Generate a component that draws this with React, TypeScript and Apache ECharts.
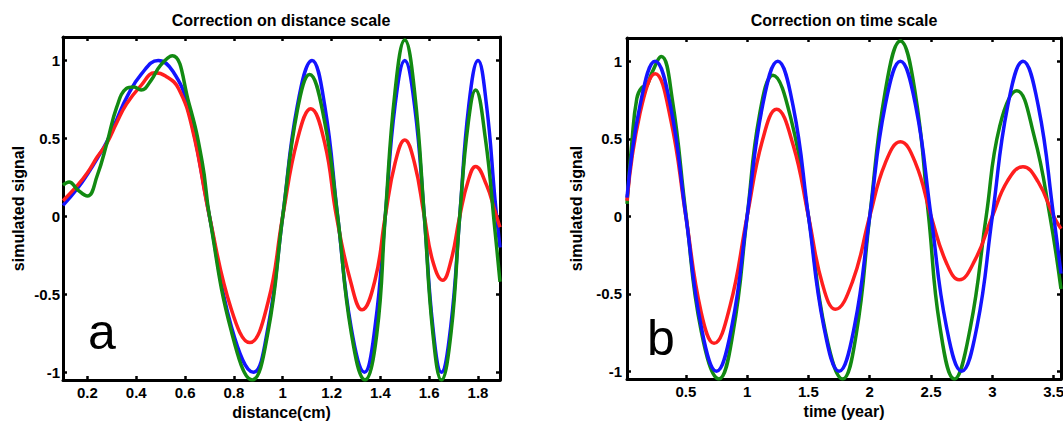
import React, { useEffect, useRef } from "react";
import * as echarts from "echarts";

// ---- tick values ----
const distanceTicks = [0.2, 0.4, 0.6, 0.8, 1, 1.2, 1.4, 1.6, 1.8];
const timeTicks = [0.5, 1, 1.5, 2, 2.5, 3, 3.5];
const signalTicks = [-1, -0.5, 0, 0.5, 1];

// ---- panel a: distance (cm) vs simulated signal ----
const distanceBlue: [number, number][] = [
  [0.1, 0.07], [0.16, 0.18], [0.2, 0.27], [0.24, 0.37], [0.28, 0.48], [0.32, 0.62], [0.36, 0.76],
  [0.42, 0.91], [0.49, 1.0], [0.55, 0.93], [0.61, 0.71], [0.7, 0.0], [0.79, -0.71], [0.88, -1.0],
  [0.94, -0.71], [1.0, 0.0], [1.06, 0.71], [1.12, 1.0], [1.172, 0.71], [1.225, 0.0], [1.28, -0.71],
  [1.335, -1.0], [1.378, -0.71], [1.42, 0.0], [1.46, 0.71], [1.5, 1.0], [1.54, 0.71], [1.58, 0.0],
  [1.615, -0.71], [1.65, -1.0], [1.688, -0.71], [1.725, 0.0], [1.762, 0.71], [1.8, 1.0], [1.835, 0.71],
  [1.87, 0.1], [1.89, -0.2],
];
const distanceRed: [number, number][] = [
  [0.1, 0.1], [0.16, 0.2], [0.2, 0.28], [0.24, 0.38], [0.28, 0.47], [0.32, 0.6], [0.36, 0.72],
  [0.42, 0.84], [0.476, 0.92], [0.52, 0.9], [0.573, 0.82], [0.63, 0.56], [0.7, 0.0], [0.79, -0.6],
  [0.865, -0.81], [0.94, -0.55], [1.0, 0.0], [1.06, 0.49], [1.115, 0.69], [1.172, 0.47], [1.22, 0.0],
  [1.28, -0.43], [1.325, -0.6], [1.378, -0.41], [1.42, 0.0], [1.46, 0.34], [1.5, 0.49], [1.54, 0.34],
  [1.58, 0.0], [1.615, -0.29], [1.655, -0.41], [1.69, -0.28], [1.725, 0.0], [1.76, 0.23], [1.79, 0.32],
  [1.835, 0.2], [1.87, 0.03], [1.89, -0.07],
];
const distanceGreen: [number, number][] = [
  [0.1, 0.2], [0.125, 0.22], [0.16, 0.17], [0.2, 0.13], [0.24, 0.26], [0.28, 0.47], [0.32, 0.7],
  [0.36, 0.82], [0.39, 0.83], [0.42, 0.81], [0.46, 0.87], [0.5, 0.97], [0.548, 1.03], [0.615, 0.73],
  [0.67, 0.35], [0.7, 0.0], [0.79, -0.74], [0.875, -1.05], [0.94, -0.74], [1.0, 0.0], [1.06, 0.68],
  [1.11, 0.91], [1.17, 0.62], [1.225, 0.0], [1.28, -0.74], [1.337, -1.05], [1.385, -0.76], [1.42, 0.0],
  [1.46, 0.8], [1.5, 1.13], [1.54, 0.8], [1.58, 0.0], [1.615, -0.75], [1.65, -1.05], [1.69, -0.74],
  [1.725, 0.0], [1.76, 0.6], [1.79, 0.81], [1.83, 0.5], [1.87, -0.1], [1.89, -0.42],
];

// ---- panel b: time (year) vs simulated signal ----
const timeBlue: [number, number][] = [
  [0.02, 0.12], [0.125, 0.71], [0.25, 1.0], [0.375, 0.71], [0.5, 0.0], [0.625, -0.71], [0.75, -1.0],
  [0.875, -0.71], [1.0, 0.0], [1.125, 0.71], [1.25, 1.0], [1.375, 0.71], [1.5, 0.0], [1.625, -0.71],
  [1.75, -1.0], [1.875, -0.71], [2.0, 0.0], [2.125, 0.71], [2.25, 1.0], [2.375, 0.71], [2.5, 0.0],
  [2.625, -0.71], [2.75, -1.0], [2.875, -0.71], [3.0, 0.0], [3.125, 0.71], [3.25, 1.0], [3.375, 0.71],
  [3.5, 0.0], [3.56, -0.37],
];
const timeRed: [number, number][] = [
  [0.02, 0.1], [0.125, 0.66], [0.25, 0.92], [0.375, 0.63], [0.5, 0.0], [0.625, -0.62], [0.73, -0.82],
  [0.86, -0.58], [1.0, 0.0], [1.125, 0.49], [1.24, 0.69], [1.375, 0.46], [1.5, 0.0], [1.615, -0.44],
  [1.72, -0.6], [1.86, -0.42], [2.0, 0.0], [2.125, 0.34], [2.25, 0.48], [2.375, 0.34], [2.5, 0.0],
  [2.625, -0.3], [2.73, -0.41], [2.86, -0.28], [3.0, 0.0], [3.125, 0.23], [3.25, 0.32], [3.375, 0.22],
  [3.5, 0.0], [3.56, -0.08],
];
const timeGreen: [number, number][] = [
  [0.02, 0.08], [0.06, 0.48], [0.1, 0.76], [0.14, 0.83], [0.18, 0.84], [0.22, 0.92], [0.3, 1.03],
  [0.39, 0.75], [0.5, 0.02], [0.625, -0.74], [0.77, -1.05], [0.885, -0.75], [1.0, 0.0], [1.1, 0.65],
  [1.21, 0.91], [1.36, 0.62], [1.5, 0.0], [1.64, -0.75], [1.78, -1.05], [1.89, -0.76], [2.0, 0.0],
  [2.125, 0.8], [2.25, 1.13], [2.37, 0.8], [2.48, 0.0], [2.57, -0.7], [2.69, -1.05], [2.82, -0.72],
  [2.95, 0.0], [3.06, 0.58], [3.2, 0.81], [3.34, 0.52], [3.47, 0.0], [3.56, -0.47],
];

const FONT = '"Liberation Sans", Arial, sans-serif';
const BLUE = "#1414ff";
const RED = "#ff1e1e";
const GREEN = "#128a12";

function axisBase(ticks: number[], showLabels: boolean, margin = 8) {
  return {
    type: "value" as const,
    splitLine: { show: false },
    axisLine: { show: true, onZero: false, lineStyle: { color: "#000", width: 3 } },
    axisTick: { show: true, inside: true, length: 4, customValues: ticks, lineStyle: { color: "#000", width: 2.5 } },
    axisLabel: {
      show: showLabels,
      customValues: ticks,
      margin,
      color: "#000",
      fontFamily: FONT,
      fontWeight: "bold" as const,
      fontSize: 15,
      formatter: (v: number) => String(v),
    },
  };
}

function lineSeries(data: [number, number][], color: string, axisIdx: number) {
  return {
    type: "line" as const,
    data,
    xAxisIndex: axisIdx,
    yAxisIndex: axisIdx,
    smooth: 0.45,
    showSymbol: false,
    symbol: "none",
    clip: true,
    lineStyle: { color, width: 3.5 },
  };
}

export default function App() {
  const ref = useRef<HTMLDivElement>(null);
  useEffect(() => {
    document.body.style.margin = "0";
    if (!ref.current) return;
    const chart = echarts.init(ref.current, undefined, { renderer: "svg" });
    const nameStyle = { color: "#000", fontFamily: FONT, fontWeight: "bold" as const, fontSize: 16 };
    chart.setOption({
      animation: false,
      backgroundColor: "#fff",
      grid: [
        { left: 63, top: 37, width: 437, height: 343, outerBoundsMode: "none", containLabel: false },
        { left: 627, top: 38, width: 434, height: 341, outerBoundsMode: "none", containLabel: false },
      ],
      xAxis: [
        { ...axisBase(distanceTicks, true, 5), gridIndex: 0, min: 0.1, max: 1.89, position: "bottom",
          name: "distance(cm)", nameLocation: "middle", nameGap: 23, nameTextStyle: nameStyle },
        { ...axisBase(timeTicks, true, 5), gridIndex: 1, min: 0.02, max: 3.56, position: "bottom",
          name: "time (year)", nameLocation: "middle", nameGap: 23, nameTextStyle: nameStyle },
        { ...axisBase(distanceTicks, false), gridIndex: 0, min: 0.1, max: 1.89, position: "top" },
        { ...axisBase(timeTicks, false), gridIndex: 1, min: 0.02, max: 3.56, position: "top" },
      ],
      yAxis: [
        { ...axisBase(signalTicks, true, 3), gridIndex: 0, min: -1.05, max: 1.15, position: "left",
          name: "simulated signal", nameLocation: "middle", nameGap: 37, nameTextStyle: nameStyle },
        { ...axisBase(signalTicks, true, 5), gridIndex: 1, min: -1.05, max: 1.15, position: "left",
          name: "simulated signal", nameLocation: "middle", nameGap: 43, nameTextStyle: nameStyle },
        { ...axisBase(signalTicks, false), gridIndex: 0, min: -1.05, max: 1.15, position: "right" },
        { ...axisBase(signalTicks, false), gridIndex: 1, min: -1.05, max: 1.15, position: "right" },
      ],
      series: [
        lineSeries(distanceBlue, BLUE, 0),
        lineSeries(distanceRed, RED, 0),
        lineSeries(distanceGreen, GREEN, 0),
        lineSeries(timeGreen, GREEN, 1),
        lineSeries(timeRed, RED, 1),
        lineSeries(timeBlue, BLUE, 1),
      ],
      graphic: [
        { type: "text", x: 281, y: 20, z: 10,
          style: { text: "Correction on distance scale", font: `bold 16px ${FONT}`, align: "center", verticalAlign: "middle", fill: "#000" } },
        { type: "text", x: 844, y: 20, z: 10,
          style: { text: "Correction on time scale", font: `bold 16px ${FONT}`, align: "center", verticalAlign: "middle", fill: "#000" } },
        { type: "text", x: 88, y: 307, z: 10,
          style: { text: "a", font: `50px ${FONT}`, align: "left", verticalAlign: "top", fill: "#000" } },
        { type: "text", x: 647, y: 313, z: 10,
          style: { text: "b", font: `50px ${FONT}`, align: "left", verticalAlign: "top", fill: "#000" } },
      ],
    });
    return () => chart.dispose();
  }, []);
  return <div ref={ref} style={{ width: 1063, height: 421 }} />;
}
